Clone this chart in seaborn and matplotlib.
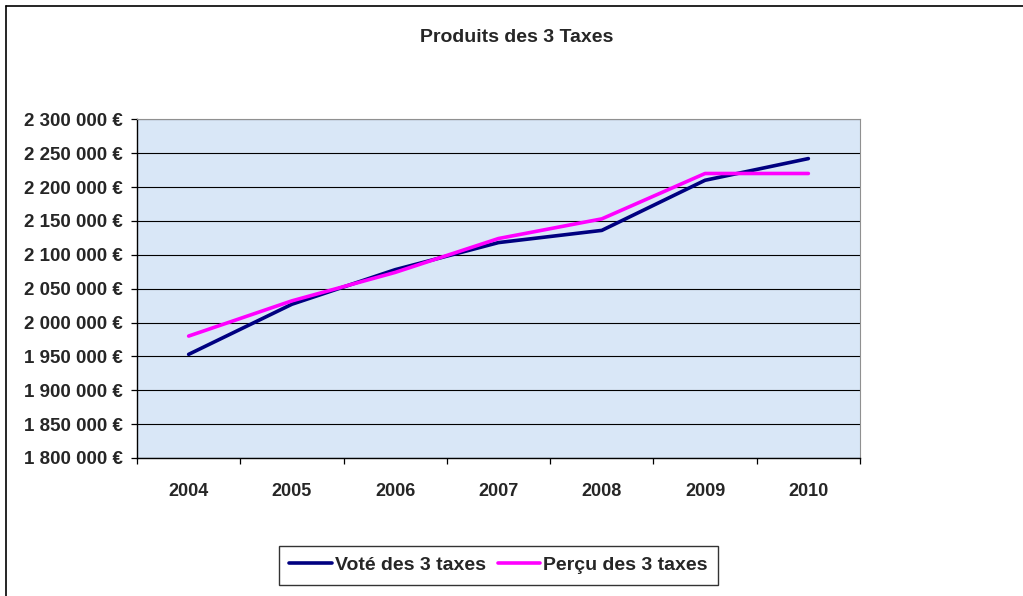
import numpy as np
import pandas as pd
import matplotlib
matplotlib.use("Agg")
import matplotlib.pyplot as plt
import matplotlib.ticker as mticker
from matplotlib.lines import Line2D
import seaborn as sns

# donnees
annees = ["2004", "2005", "2006", "2007", "2008", "2009", "2010"]
vote = [1953000, 2027000, 2078000, 2118000, 2136000, 2210000, 2242000]
percu = [1980000, 2032000, 2074000, 2124000, 2153000, 2220000, 2220000]
series = ["Voté des 3 taxes", "Perçu des 3 taxes"]
couleurs = ["#000080", "#FF00FF"]

df = pd.DataFrame({
    "annee": annees * 2,
    "montant": vote + percu,
    "serie": [series[0]] * len(annees) + [series[1]] * len(annees),
})

sns.set_style("white")
plt.rcParams["font.family"] = ["Liberation Sans", "DejaVu Sans"]
plt.rcParams["font.weight"] = "bold"

fig = plt.figure(figsize=(10.23, 5.96), dpi=100)
ax = fig.add_axes([137 / 1023, 1 - 458 / 596, (860 - 137) / 1023, (458 - 119.3) / 596])
ax.set_facecolor("#D9E7F7")

sns.lineplot(data=df, x="annee", y="montant", hue="serie", palette=couleurs,
             linewidth=2.6, ax=ax, legend=False, sort=False)

ax.set_xlim(-0.5, len(annees) - 0.5)
ax.set_ylim(1800000, 2300000)
ax.yaxis.set_major_locator(mticker.MultipleLocator(50000))
ax.yaxis.set_major_formatter(mticker.FuncFormatter(
    lambda v, p: "{:,.0f} €".format(v).replace(",", " ")))
ax.grid(axis="y", color="black", linewidth=0.8)
ax.set_axisbelow(True)

# ticks x aux limites des categories
ax.xaxis.set_minor_locator(mticker.FixedLocator(np.arange(-0.5, len(annees), 1.0)))
ax.tick_params(axis="x", which="major", length=0, pad=18, labelsize=13)
ax.tick_params(axis="x", which="minor", length=4, width=0.9, direction="out",
               color="black", bottom=True)
ax.tick_params(axis="y", length=4, width=0.9, direction="out", left=True,
               pad=6, labelsize=13.5, color="black")
for lab in ax.get_xticklabels() + ax.get_yticklabels():
    lab.set_fontweight("bold")

ax.set_xlabel("")
ax.set_ylabel("")
ax.spines["left"].set_color("black")
ax.spines["bottom"].set_color("black")
ax.spines["left"].set_linewidth(1.0)
ax.spines["bottom"].set_linewidth(1.0)
ax.spines["top"].set_color("#909090")
ax.spines["right"].set_color("#909090")

fig.text(517 / 1023, 1 - 38 / 596, "Produits des 3 Taxes", ha="center",
         va="center", fontsize=14, fontweight="bold")

poignees = [Line2D([], [], color=c, linewidth=2.6) for c in couleurs]
leg = fig.legend(poignees, series, loc="center", ncol=2,
                 bbox_to_anchor=(498.5 / 1023, 1 - 565 / 596),
                 prop={"size": 14, "weight": "bold"}, frameon=True,
                 fancybox=False, edgecolor="black", handlelength=2.2,
                 handletextpad=0.15, columnspacing=0.6, borderpad=0.55)
leg.get_frame().set_linewidth(1.0)

# cadre de la figure
fig.add_artist(Line2D([6 / 1023, 1.0], [1 - 6 / 596] * 2, color="black", linewidth=1.2))
fig.add_artist(Line2D([6 / 1023] * 2, [0.0, 1 - 6 / 596], color="black", linewidth=1.2))

fig.savefig("out.png", dpi=100)
